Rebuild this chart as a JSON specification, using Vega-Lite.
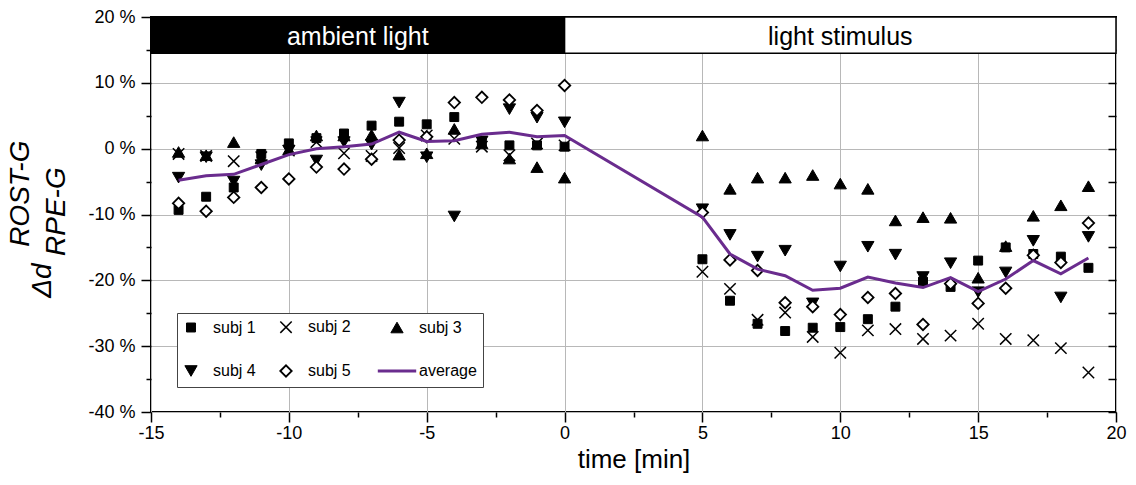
{
  "$schema": "https://vega.github.io/schema/vega-lite/v6.json",
  "width": 965,
  "height": 395,
  "autosize": {"type": "none"},
  "padding": {"left": 151, "top": 17, "right": 20, "bottom": 73},
  "background": "white",
  "config": {
    "font": "Liberation Sans",
    "view": {"stroke": "black", "strokeWidth": 2},
    "axis": {"labelColor": "black", "tickColor": "black", "domain": false, "labelFont": "Liberation Sans", "titleFont": "Liberation Sans", "titleFontWeight": "normal", "titleColor": "black", "labelFlush": false, "labelOverlap": false},
    "legend": {"direction": "horizontal", "columns": 3, "columnPadding": 20, "rowPadding": 25, "padding": 6, "fillColor": "white", "strokeColor": "#444444", "labelFontSize": 16, "labelFont": "Liberation Sans", "labelColor": "black", "labelOffset": 14, "symbolLimit": 0}
  },
  "datasets": {
    "main": [
      {"t": -14, "subj 1": -9.3, "subj 2": -0.8, "subj 3": -0.5, "subj 4": -4.4, "subj 5": -8.3, "average": -4.8},
      {"t": -13, "subj 1": -7.3, "subj 2": -1.1, "subj 3": -1.0, "subj 4": -1.3, "subj 5": -9.5, "average": -4.1},
      {"t": -12, "subj 1": -5.9, "subj 2": -1.9, "subj 3": 1.0, "subj 4": -5.0, "subj 5": -7.4, "average": -3.9},
      {"t": -11, "subj 1": -0.8, "subj 2": -1.3, "subj 3": -1.5, "subj 4": -2.5, "subj 5": -5.9, "average": -2.4},
      {"t": -10, "subj 1": 0.8, "subj 2": -0.3, "subj 3": -0.1, "subj 4": -0.3, "subj 5": -4.6, "average": -0.9},
      {"t": -9, "subj 1": 1.6, "subj 2": 1.0, "subj 3": 2.0, "subj 4": -1.8, "subj 5": -2.8, "average": 0.0},
      {"t": -8, "subj 1": 2.3, "subj 2": -0.7, "subj 3": 2.0, "subj 4": 1.0, "subj 5": -3.1, "average": 0.3},
      {"t": -7, "subj 1": 3.5, "subj 2": -1.1, "subj 3": 2.1, "subj 4": 0.6, "subj 5": -1.6, "average": 0.7},
      {"t": -6, "subj 1": 4.1, "subj 2": 0.1, "subj 3": -0.9, "subj 4": 7.0, "subj 5": 1.3, "average": 2.5},
      {"t": -5, "subj 1": 3.7, "subj 2": 2.0, "subj 3": -0.7, "subj 4": -1.3, "subj 5": 1.8, "average": 1.1},
      {"t": -4, "subj 1": 4.8, "subj 2": 1.5, "subj 3": 3.0, "subj 4": -10.3, "subj 5": 7.0, "average": 1.2},
      {"t": -3, "subj 1": 1.0, "subj 2": 0.3, "subj 3": 0.8, "subj 4": 1.1, "subj 5": 7.8, "average": 2.2},
      {"t": -2, "subj 1": 0.5, "subj 2": -1.0, "subj 3": -1.5, "subj 4": 6.0, "subj 5": 7.4, "average": 2.5},
      {"t": -1, "subj 1": 0.5, "subj 2": 0.8, "subj 3": -2.8, "subj 4": 4.7, "subj 5": 5.8, "average": 1.8},
      {"t": 0, "subj 1": 0.3, "subj 2": 0.5, "subj 3": -4.4, "subj 4": 4.0, "subj 5": 9.6, "average": 2.0},
      {"t": 5, "subj 1": -16.8, "subj 2": -18.7, "subj 3": 2.0, "subj 4": -9.2, "subj 5": -9.7, "average": -10.4},
      {"t": 6, "subj 1": -23.1, "subj 2": -21.3, "subj 3": -6.1, "subj 4": -13.1, "subj 5": -16.9, "average": -16.0},
      {"t": 7, "subj 1": -26.6, "subj 2": -26.0, "subj 3": -4.4, "subj 4": -16.4, "subj 5": -18.5, "average": -18.3},
      {"t": 8, "subj 1": -27.7, "subj 2": -24.9, "subj 3": -4.4, "subj 4": -15.5, "subj 5": -23.4, "average": -19.3},
      {"t": 9, "subj 1": -27.2, "subj 2": -28.6, "subj 3": -4.0, "subj 4": -23.5, "subj 5": -24.0, "average": -21.5},
      {"t": 10, "subj 1": -27.1, "subj 2": -31.0, "subj 3": -5.3, "subj 4": -17.9, "subj 5": -25.2, "average": -21.2},
      {"t": 11, "subj 1": -25.9, "subj 2": -27.6, "subj 3": -6.1, "subj 4": -14.9, "subj 5": -22.6, "average": -19.5},
      {"t": 12, "subj 1": -24.0, "subj 2": -27.4, "subj 3": -10.9, "subj 4": -16.1, "subj 5": -22.0, "average": -20.4},
      {"t": 13, "subj 1": -20.2, "subj 2": -28.9, "subj 3": -10.4, "subj 4": -19.5, "subj 5": -26.7, "average": -21.1},
      {"t": 14, "subj 1": -21.0, "subj 2": -28.4, "subj 3": -10.5, "subj 4": -17.4, "subj 5": -20.5, "average": -19.6},
      {"t": 15, "subj 1": -17.0, "subj 2": -26.6, "subj 3": -19.6, "subj 4": -21.8, "subj 5": -23.5, "average": -21.7},
      {"t": 16, "subj 1": -15.0, "subj 2": -28.9, "subj 3": -14.8, "subj 4": -18.8, "subj 5": -21.2, "average": -19.8},
      {"t": 17, "subj 1": -16.0, "subj 2": -29.1, "subj 3": -10.2, "subj 4": -14.0, "subj 5": -16.2, "average": -17.0},
      {"t": 18, "subj 1": -16.4, "subj 2": -30.3, "subj 3": -8.6, "subj 4": -22.6, "subj 5": -17.3, "average": -19.0},
      {"t": 19, "subj 1": -18.1, "subj 2": -34.0, "subj 3": -5.7, "subj 4": -13.4, "subj 5": -11.3, "average": -16.6}
    ],
    "phases": [
      {"phase": "ambient light", "start": -15, "end": 0},
      {"phase": "light stimulus", "start": 0, "end": 20}
    ]
  },
  "resolve": {"axis": {"x": "independent", "y": "independent"}},
  "layer": [
    {
      "data": {"name": "phases"},
      "transform": [{"filter": "datum.phase === 'ambient light'"}],
      "mark": {"type": "rect", "fill": "black", "stroke": "black", "strokeWidth": 1.5},
      "encoding": {
        "x": {"field": "start", "type": "quantitative", "scale": {"domain": [-15, 20], "nice": false, "zero": false}, "axis": null},
        "x2": {"field": "end"},
        "y": {"datum": 20, "type": "quantitative", "scale": {"domain": [-40, 20], "nice": false, "zero": false},
              "axis": {"orient": "right", "values": [-40, -35, -30, -25, -20, -15, -10, -5, 0, 5, 10, 15, 20], "tickSize": -8, "tickWidth": 1.5, "labels": false, "grid": false, "title": null}},
        "y2": {"datum": 14.5}
      }
    },
    {
      "data": {"name": "phases"},
      "transform": [{"filter": "datum.phase === 'light stimulus'"}],
      "mark": {"type": "rect", "fill": "white", "stroke": "black", "strokeWidth": 1.5},
      "encoding": {
        "x": {"field": "start", "type": "quantitative", "axis": null},
        "x2": {"field": "end"},
        "y": {"datum": 20, "type": "quantitative", "axis": null},
        "y2": {"datum": 14.5}
      }
    },
    {
      "data": {"name": "phases"},
      "transform": [{"filter": "datum.phase === 'ambient light'"}, {"calculate": "(datum.start + datum.end) / 2", "as": "mid"}],
      "mark": {"type": "text", "color": "white", "fontSize": 25, "font": "Liberation Sans", "baseline": "alphabetic", "align": "center"},
      "encoding": {
        "x": {"field": "mid", "type": "quantitative", "axis": null},
        "y": {"datum": 15.75, "type": "quantitative", "axis": null},
        "text": {"field": "phase"}
      }
    },
    {
      "data": {"name": "phases"},
      "transform": [{"filter": "datum.phase === 'light stimulus'"}, {"calculate": "(datum.start + datum.end) / 2", "as": "mid"}],
      "mark": {"type": "text", "color": "black", "fontSize": 25, "font": "Liberation Sans", "baseline": "alphabetic", "align": "center"},
      "encoding": {
        "x": {"field": "mid", "type": "quantitative", "axis": null},
        "y": {"datum": 15.75, "type": "quantitative", "axis": null},
        "text": {"field": "phase"}
      }
    },
    {
      "data": {"name": "main"},
      "transform": [{"fold": ["subj 1", "subj 2", "subj 3", "subj 4", "subj 5"], "as": ["series", "value"]}],
      "mark": {"type": "point", "opacity": 1},
      "encoding": {
        "x": {"field": "t", "type": "quantitative",
              "axis": {"orient": "bottom", "values": [-15, -10, -5, 0, 5, 10, 15, 20], "labelExpr": "'' + datum.value", "grid": true, "gridColor": "#b8b8b8", "gridWidth": 1, "tickSize": 10, "tickWidth": 1.5, "labelFontSize": 18, "labelPadding": 2, "title": "time [min]", "titleFontSize": 26, "titlePadding": 4}},
        "y": {"field": "value", "type": "quantitative",
              "axis": {"orient": "left", "values": [-40, -30, -20, -10, 0, 10, 20], "labelExpr": "datum.value + ' %'", "grid": true, "gridColor": "#b8b8b8", "gridWidth": 1, "tickSize": 10, "tickWidth": 1.5, "labelFontSize": 18, "labelPadding": 6, "title": null}},
        "shape": {"field": "series", "type": "nominal",
                  "scale": {"domain": ["subj 1", "subj 2", "subj 3", "subj 4", "subj 5", "average"], "range": ["square", "M-1,-1L1,1M1,-1L-1,1", "triangle-up", "triangle-down", "diamond", "M-3.2,0L3.2,0"]},
                  "legend": {"title": null, "orient": "none", "legendX": 26, "legendY": 296, "direction": "horizontal", "columns": 3, "columnPadding": 20, "rowPadding": 25, "padding": 6, "fillColor": "white", "strokeColor": "#444444", "labelFontSize": 16, "labelFont": "Liberation Sans", "labelColor": "black", "labelOffset": 14}},
        "fill": {"field": "series", "type": "nominal",
                 "scale": {"domain": ["subj 1", "subj 2", "subj 3", "subj 4", "subj 5", "average"], "range": ["black", "transparent", "black", "black", "white", "transparent"]}},
        "stroke": {"field": "series", "type": "nominal",
                   "scale": {"domain": ["subj 1", "subj 2", "subj 3", "subj 4", "subj 5", "average"], "range": ["black", "black", "black", "black", "black", "#6a2c8e"]}},
        "size": {"field": "series", "type": "nominal",
                 "scale": {"type": "ordinal", "domain": ["subj 1", "subj 2", "subj 3", "subj 4", "subj 5", "average"], "range": [80, 130, 150, 150, 130, 144]}},
        "strokeWidth": {"field": "series", "type": "nominal",
                        "scale": {"type": "ordinal", "domain": ["subj 1", "subj 2", "subj 3", "subj 4", "subj 5", "average"], "range": [1, 1.5, 1, 1, 1.8, 3]}}
      }
    },
    {
      "data": {"name": "main"},
      "mark": {"type": "line", "color": "#6a2c8e", "strokeWidth": 3},
      "encoding": {
        "x": {"field": "t", "type": "quantitative",
              "axis": {"orient": "bottom", "values": [-12.5, -7.5, -2.5, 2.5, 7.5, 12.5, 17.5], "tickSize": 5, "tickWidth": 1.5, "labels": false, "grid": false, "title": null}},
        "y": {"field": "average", "type": "quantitative",
              "axis": {"orient": "left", "values": [-35, -25, -15, -5, 5, 15], "tickSize": 5, "tickWidth": 1.5, "labels": false, "grid": false, "title": null}}
      }
    },
    {
      "data": {"values": [{}]},
      "mark": {"type": "text", "angle": 270, "fontStyle": "italic", "fontSize": 28, "font": "Liberation Sans", "align": "center", "baseline": "middle", "color": "black"},
      "encoding": {
        "x": {"datum": -18.92, "type": "quantitative", "axis": null},
        "y": {"datum": -20.05, "type": "quantitative", "axis": null},
        "text": {"value": "Δd"}
      }
    },
    {
      "data": {"values": [{}]},
      "mark": {"type": "text", "angle": 270, "fontStyle": "italic", "fontSize": 28, "font": "Liberation Sans", "align": "center", "baseline": "middle", "color": "black"},
      "encoding": {
        "x": {"datum": -19.72, "type": "quantitative", "axis": null},
        "y": {"datum": -6.84, "type": "quantitative", "axis": null},
        "text": {"value": "ROST-G"}
      }
    },
    {
      "data": {"values": [{}]},
      "mark": {"type": "text", "angle": 270, "fontStyle": "italic", "fontSize": 28, "font": "Liberation Sans", "align": "center", "baseline": "middle", "color": "black"},
      "encoding": {
        "x": {"datum": -18.41, "type": "quantitative", "axis": null},
        "y": {"datum": -9.57, "type": "quantitative", "axis": null},
        "text": {"value": "RPE-G"}
      }
    }
  ]
}
